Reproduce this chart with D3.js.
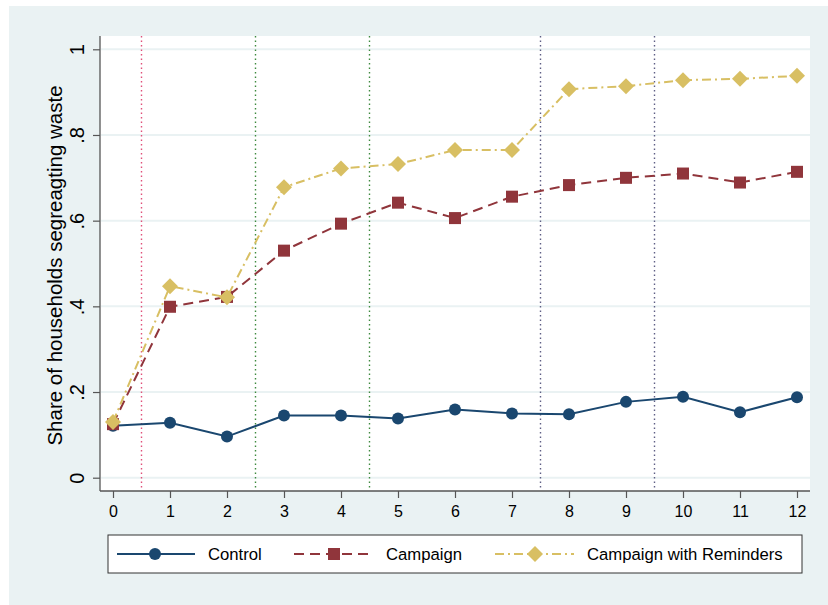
<!DOCTYPE html>
<html>
<head>
<meta charset="utf-8">
<script src="https://cdn.jsdelivr.net/npm/d3@7"></script>
<style>
  html, body { margin: 0; padding: 0; background: #ffffff; }
  svg { display: block; font-family: "Liberation Sans", Arial, Helvetica, sans-serif; }
</style>
</head>
<body>
<svg id="chart" width="828" height="605"></svg>
<script>
// ---- data ----
const periods = [0,1,2,3,4,5,6,7,8,9,10,11,12];
const controlValues   = [0.121,0.128,0.096,0.145,0.145,0.138,0.159,0.150,0.148,0.177,0.189,0.153,0.188];
const campaignValues  = [0.125,0.399,0.422,0.530,0.593,0.642,0.606,0.656,0.683,0.700,0.710,0.689,0.714];
const reminderValues  = [0.130,0.447,0.421,0.678,0.722,0.732,0.765,0.765,0.907,0.914,0.928,0.931,0.938];
const yTickValues = [0,0.2,0.4,0.6,0.8,1];
const yTickLabels = ["0",".2",".4",".6",".8","1"];
const xTickValues = [0,1,2,3,4,5,6,7,8,9,10,11,12];
const refLines = [0.5,2.5,4.5,7.5,9.5];
const refColors = ["#e0507a","#3f8a3f","#3f8a3f","#5f5f85","#5f5f85"];
const seriesNames = ["Control","Campaign","Campaign with Reminders"];
const yTitle = "Share of households segreagting waste";

// ---- layout ----
const svg = d3.select("#chart");
const plot = {left:100, right:810, top:36, bottom:491};
const x = d3.scaleLinear().domain([0,12]).range([113,797]);
const y = d3.scaleLinear().domain([0,1]).range([477.7,49.3]);

// outer background
svg.append("rect").attr("x",9).attr("y",6).attr("width",819).attr("height",599).attr("fill","#eaf2f3");
// plot region
svg.append("rect").attr("x",plot.left).attr("y",plot.top)
  .attr("width",plot.right-plot.left).attr("height",plot.bottom-plot.top).attr("fill","#ffffff");

// gridlines
svg.append("g").selectAll("line").data(yTickValues).join("line")
  .attr("x1",plot.left+1).attr("x2",plot.right)
  .attr("y1",d=>y(d)).attr("y2",d=>y(d))
  .attr("stroke","#eaf2f3").attr("stroke-width",2);

// reference lines
svg.append("g").selectAll("line").data(refLines).join("line")
  .attr("x1",d=>x(d)).attr("x2",d=>x(d))
  .attr("y1",plot.top).attr("y2",plot.bottom-1)
  .attr("stroke",(d,i)=>refColors[i]).attr("stroke-width",1.4)
  .attr("stroke-dasharray","1.5,3");

// axes
const yAxis = d3.axisLeft(y).tickValues(yTickValues).tickFormat((d,i)=>yTickLabels[i]).tickSize(7).tickSizeOuter(0);
const gy = svg.append("g").attr("transform",`translate(${plot.left},0)`).call(yAxis);
gy.select(".domain").attr("d",`M0,${plot.top}V${plot.bottom}`);
gy.selectAll(".domain").attr("stroke","#555").attr("stroke-width",1.3);
gy.selectAll(".tick line").attr("stroke","#555").attr("stroke-width",1.2);
gy.selectAll(".tick text")
  .attr("transform","rotate(-90)").attr("x",0).attr("y",-16).attr("dy",0)
  .attr("text-anchor","middle").attr("font-size",20).attr("fill","#000")
  .attr("font-family","Liberation Sans, Arial, sans-serif");

const xAxis = d3.axisBottom(x).tickValues(xTickValues).tickFormat(d3.format("d")).tickSize(7).tickSizeOuter(0);
const gx = svg.append("g").attr("transform",`translate(0,${plot.bottom})`).call(xAxis);
gx.select(".domain").attr("d",`M${plot.left},0H${plot.right}`);
gx.selectAll(".domain").attr("stroke","#555").attr("stroke-width",1.3);
gx.selectAll(".tick line").attr("stroke","#555").attr("stroke-width",1.2);
gx.selectAll(".tick text").attr("y",26).attr("dy",0)
  .attr("font-size",16).attr("fill","#000")
  .attr("font-family","Liberation Sans, Arial, sans-serif");

// y title
svg.append("text")
  .attr("transform",`translate(62,${(plot.top+plot.bottom)/2 + 2}) rotate(-90)`)
  .attr("text-anchor","middle").attr("font-size",20.5).attr("fill","#000")
  .text(yTitle);

// series
const series = [
  {name:seriesNames[0], values:controlValues, color:"#1a476f", dash:null, shape:"circle"},
  {name:seriesNames[1], values:campaignValues, color:"#90353b", dash:"10,6", shape:"square"},
  {name:seriesNames[2], values:reminderValues, color:"#d8bf63", dash:"9,4,2,4", shape:"diamond"}
];
const line = d3.line().x((d,i)=>x(periods[i])).y(d=>y(d));

function drawMarker(g, shape, color, cx, cy){
  if(shape==="circle"){
    g.append("circle").attr("cx",cx).attr("cy",cy).attr("r",6).attr("fill",color);
  } else if(shape==="square"){
    g.append("rect").attr("x",cx-6).attr("y",cy-6).attr("width",12).attr("height",12).attr("fill",color);
  } else {
    g.append("path").attr("d",`M${cx},${cy-8}L${cx+8},${cy}L${cx},${cy+8}L${cx-8},${cy}Z`).attr("fill",color);
  }
}

series.forEach(s=>{
  const g = svg.append("g");
  g.append("path").datum(s.values).attr("d",line).attr("fill","none")
    .attr("stroke",s.color).attr("stroke-width",2)
    .attr("stroke-dasharray",s.dash);
  s.values.forEach((v,i)=>drawMarker(g,s.shape,s.color,x(periods[i]),y(v)));
});

// legend
const lg = svg.append("g");
lg.append("rect").attr("x",108).attr("y",535).attr("width",694).attr("height",38)
  .attr("fill","#fff").attr("stroke","#333").attr("stroke-width",1);
const legendItems = [
  {x1:117,x2:195,mx:155,tx:208},
  {x1:294,x2:374,mx:334,tx:386},
  {x1:495,x2:574,mx:535,tx:587}
];
series.forEach((s,i)=>{
  const it = legendItems[i];
  const ly = 554;
  lg.append("line").attr("x1",it.x1).attr("x2",it.x2).attr("y1",ly).attr("y2",ly)
    .attr("stroke",s.color).attr("stroke-width",2).attr("stroke-dasharray",s.dash);
  drawMarker(lg,s.shape,s.color,it.mx,ly);
  lg.append("text").attr("x",it.tx).attr("y",ly+6).attr("font-size",16.7).attr("fill","#000").text(s.name);
});
</script>
</body>
</html>
